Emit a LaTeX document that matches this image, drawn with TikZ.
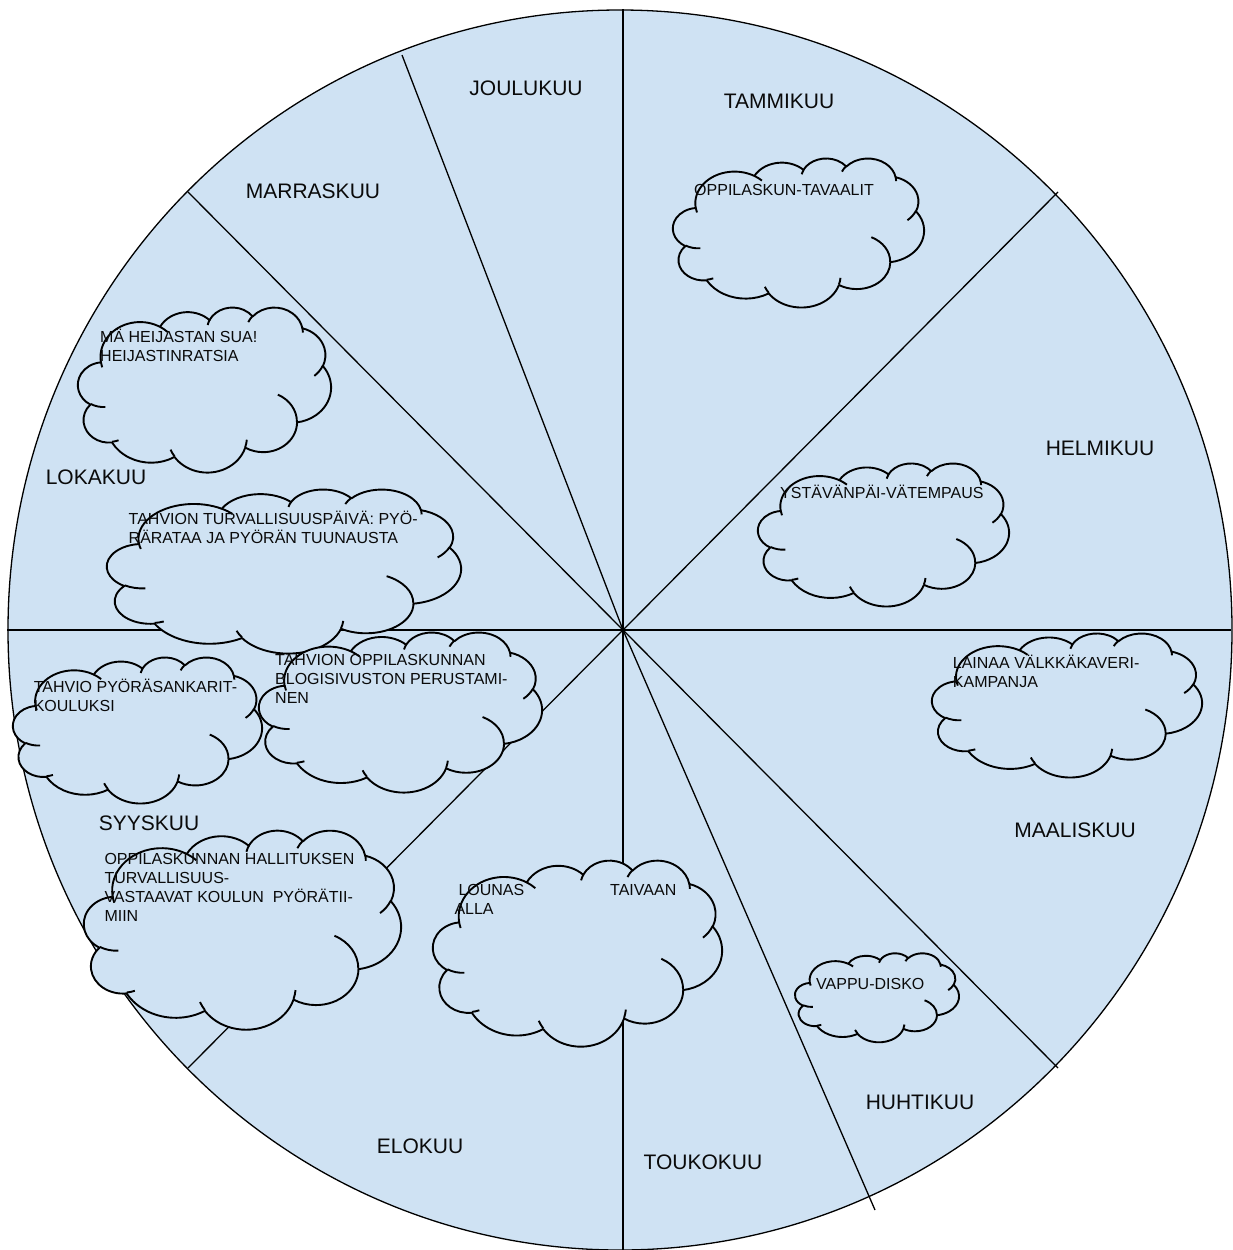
\documentclass[tikz,border=0pt]{standalone}
\usepackage{fontspec}
\setmainfont{Liberation Sans}
\usetikzlibrary{positioning}

\definecolor{wheelblue}{HTML}{CFE2F3}
\definecolor{inkgray}{HTML}{0A0A0A}

\tikzset{
  rimline/.style={line width=1.3pt, draw=black},
  spoke/.style={line width=1.3pt},
  cloudline/.style={line width=1.9pt, line join=round},
  month/.style={font=\fontsize{21}{25}\selectfont, text=inkgray, inner sep=0pt},
  cloudtext/.style={font=\fontsize{16}{19}\selectfont, text=inkgray, inner sep=0pt,
    align=left, anchor=base west},
}

% one lobe: x radius, y radius, start angle and sweep as seen on the ellipse
\newcommand\cloudlobe[4]{arc[start angle={atan2((#1)*sin(#3),(#2)*cos(#3))},
  delta angle={mod(atan2((#1)*sin((#3)+(#4)),(#2)*cos((#3)+(#4)))-atan2((#1)*sin(#3),(#2)*cos(#3))+720,360)},
  x radius=#1, y radius=#2]}

% cloud drawn in a 432 x 432 box: name, left, top, width, height
\newcommand\wishcloud[5]{%
  \pgfmathsetmacro\cloudsx{#4/432}%
  \pgfmathsetmacro\cloudsy{-#5/432}%
  \coordinate (#1) at (#2,#3);
  \begin{scope}[shift={(#1)}, x=\cloudsx pt, y=\cloudsy pt]
    \draw[cloudline, fill=wheelblue] (39.00,143.70)
      \cloudlobe{67.53}{91.90}{-190.48748}{123.78053}
      \cloudlobe{53.33}{72.67}{-144.10238}{89.94523}
      \cloudlobe{43.65}{59.45}{-145.80792}{99.72302}
      \cloudlobe{48.57}{65.95}{-130.98607}{117.24173}
      \cloudlobe{53.33}{72.73}{-78.70888}{109.02692}
      \cloudlobe{67.75}{92.20}{-46.26725}{130.26900}
      \cloudlobe{57.85}{78.67}{0.62502}{114.03333}
      \cloudlobe{67.52}{92.15}{22.45160}{115.17255}
      \cloudlobe{77.20}{105.43}{66.24263}{75.71102}
      \cloudlobe{43.60}{59.18}{-274.94208}{146.73557}
      \cloudlobe{43.45}{59.45}{-246.82850}{152.51885} -- cycle;
    % inner folds
    \draw[cloudline] (46.93,261.77) \cloudlobe{43.45}{59.45}{86.74200}{26.42950}
      (69.28,348.99) \cloudlobe{43.60}{59.18}{73.61047}{11.44747}
      (164.78,390.90) \cloudlobe{67.52}{92.15}{137.62415}{14.08110}
      (288.27,347.51) \cloudlobe{67.52}{92.15}{6.45327}{15.99835}
      (341.29,229.54) \cloudlobe{57.85}{78.67}{-70.29235}{70.91737}
      (417.98,153.54) \cloudlobe{53.33}{72.73}{30.31803}{27.75150}
      (383.24,54.26) \cloudlobe{48.57}{65.95}{-13.74433}{14.85890}
      (290.78,39.52) \cloudlobe{48.57}{65.95}{-149.18145}{18.19537}
      (221.41,47.20) \cloudlobe{43.65}{59.45}{-163.49427}{17.68635}
      (140.00,51.92) \cloudlobe{67.53}{91.90}{-66.70695}{12.31935}
      (41.27,157.89) \cloudlobe{67.53}{91.90}{157.65435}{11.85817};
  \end{scope}}

\begin{document}
\begin{tikzpicture}[x=1pt, y=-1pt]
\useasboundingbox (0,0) rectangle (1232,1250);

% the year wheel
\draw[rimline, fill=wheelblue] (620,630) ellipse [x radius=612, y radius=620];
\coordinate (hub) at (623,630);
\coordinate (rimN) at (623,9);
\coordinate (rimNE) at (1058,192);
\coordinate (rimE) at (1231,630);
\coordinate (rimSE) at (1058,1068);
\coordinate (rimSSE) at (875,1210);
\coordinate (rimS) at (623,1250);
\coordinate (rimSW) at (188,1068);
\coordinate (rimW) at (7,630);
\coordinate (rimNW) at (188,192);
\coordinate (rimNNW) at (402,55);
\foreach \r in {rimN,rimNE,rimE,rimSE,rimSSE,rimS,rimSW,rimW,rimNW,rimNNW}
  \draw[spoke] (hub) -- (\r);

% clouds
\wishcloud{heijastin}{78}{307}{253}{165}
\wishcloud{turvapaiva}{107}{489}{354}{164}
\wishcloud{pyorasankari}{13}{657}{249}{146}
\wishcloud{blogi}{259}{632}{283}{160}
\wishcloud{hallitus}{84}{830}{317}{199}
\wishcloud{lounas}{433}{860}{289}{186}
\wishcloud{vaalit}{673}{158}{251}{149}
\wishcloud{ystava}{758}{463}{251}{143}
\wishcloud{valkka}{932}{633}{270}{144}
\wishcloud{vappu}{795}{953}{164}{89}

\node[cloudtext] (heijastin-t) at (100,361.7) {MÄ HEIJASTAN SUA!\\HEIJASTINRATSIA};
\node[cloudtext] (turvapaiva-t) at (128.5,543.3) {TAHVION TURVALLISUUSPÄIVÄ: PYÖ-\\RÄRATAA JA PYÖRÄN TUUNAUSTA};
\node[cloudtext] (pyorasankari-t) at (33.6,711) {TAHVIO PYÖRÄSANKARIT-\\KOULUKSI};
\node[cloudtext] (blogi-t) at (275,703.3) {TAHVION OPPILASKUNNAN\\BLOGISIVUSTON PERUSTAMI-\\NEN};
\node[cloudtext] (hallitus-t) at (104.3,921.7) {OPPILASKUNNAN HALLITUKSEN\\TURVALLISUUS-\\VASTAAVAT KOULUN~~PYÖRÄTII-\\MIIN};
\node[cloudtext] (lounas-t) at (454.3,914) {\hspace*{4pt}LOUNAS\\ALLA};
\node[cloudtext] (taivaan-t) at (610,895) {TAIVAAN};
\node[cloudtext] (vaalit-t) at (694,195) {OPPILASKUN-TAVAALIT};
\node[cloudtext] (ystava-t) at (780,498) {YSTÄVÄNPÄI-VÄTEMPAUS};
\node[cloudtext] (valkka-t) at (952.7,687.3) {LAINAA VÄLKKÄKAVERI-\\KAMPANJA};
\node[cloudtext] (vappu-t) at (816,989) {VAPPU-DISKO};

% months
\node[month] (tammikuu) at (779,101) {TAMMIKUU};
\node[month] (helmikuu) at (1100,448) {HELMIKUU};
\node[month] (maaliskuu) at (1075,830) {MAALISKUU};
\node[month] (huhtikuu) at (920,1102) {HUHTIKUU};
\node[month] (toukokuu) at (703,1162) {TOUKOKUU};
\node[month] (elokuu) at (420,1146) {ELOKUU};
\node[month] (syyskuu) at (149,823) {SYYSKUU};
\node[month] (lokakuu) at (96,477) {LOKAKUU};
\node[month] (marraskuu) at (313,191) {MARRASKUU};
\node[month] (joulukuu) at (526,88) {JOULUKUU};
\end{tikzpicture}
\end{document}
